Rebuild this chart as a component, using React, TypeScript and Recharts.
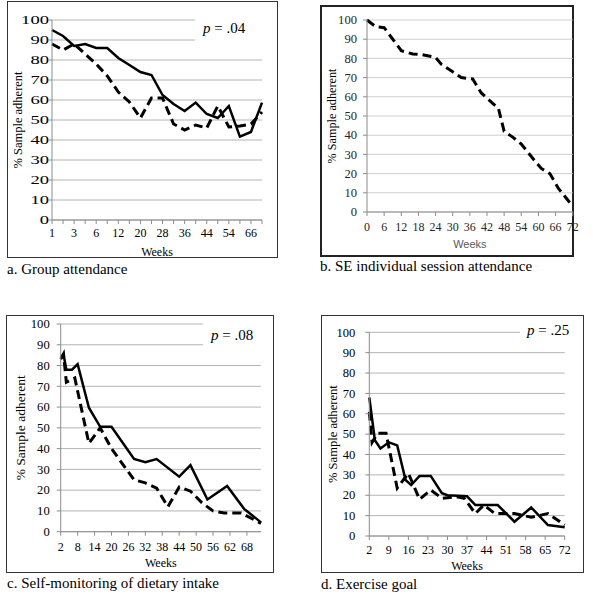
import React from 'react';
import { LineChart, Line, XAxis, YAxis, CartesianGrid, Label } from 'recharts';

const SERIF = "'Liberation Serif', 'DejaVu Serif', Times, serif";
const SANS = "'Liberation Sans', 'DejaVu Sans', Arial, sans-serif";
const axisGray = '#8c8c8c';
const gridGray = '#b4b4b4';

const percentTicks = [0, 10, 20, 30, 40, 50, 60, 70, 80, 90, 100];

// a. Group attendance (category axis, every other week labelled)
const groupWeeks = ['1', '2', '3', '4', '6', '9', '12', '16', '20', '24', '28', '32', '36', '40', '44', '48', '54', '60', '66', '72'];
const groupSolid = [95, 92, 87, 88, 86, 86, 81, 77.5, 74, 72.5, 62.5, 58, 54.5, 58.7, 53, 51, 57, 41.7, 44, 58.7];
const groupDashed = [88, 85, 88, 83, 78, 72, 64, 59, 51, 61, 61, 48, 45, 47.5, 46, 57, 46.5, 47, 48, 54];

// b. SE individual session attendance
const seWeeks = [0, 3, 6, 12, 16, 19, 24, 26, 30, 33, 37, 40, 44, 46, 48, 51, 54, 58, 61, 64, 67, 72];
const seValues = [100, 96.5, 96, 84, 82.3, 82, 80.5, 77, 73, 70, 69.3, 62, 56.6, 54, 42, 39, 35.4, 28, 22.7, 20, 12.3, 3];
const seTicks = [0, 6, 12, 18, 24, 30, 36, 42, 48, 54, 60, 66, 72];

// c. Self-monitoring of dietary intake
const dietSolidWeeks = [2, 3, 4, 6, 8, 12, 16, 20, 28, 32, 36, 44, 48, 54, 61, 67, 73];
const dietSolidValues = [84, 85.5, 78, 78, 80.7, 59.7, 50.5, 50.5, 35, 33.5, 35, 26.5, 32, 15.5, 22, 11, 4.5];
const dietDashedWeeks = [2, 3, 4, 7, 12, 16, 20, 28, 32, 36, 40, 44, 48, 52, 56, 60, 66, 73];
const dietDashedValues = [83, 85.5, 72, 74, 42.5, 50, 40, 25, 23.5, 21, 12, 21.5, 19.5, 14, 10, 9, 9, 4];
const dietTicks = [2, 8, 14, 20, 26, 32, 38, 44, 50, 56, 62, 68];

// d. Exercise goal
const exSolidWeeks = [2, 4, 6, 9, 12, 15, 17, 20, 24, 28, 30, 37, 40, 48, 54, 60, 66, 72];
const exSolidValues = [68, 47, 43, 46, 44.5, 27.5, 25, 29.5, 29.5, 21, 20, 19.5, 15.2, 15.2, 7, 14, 5.4, 4.3];
const exDashedWeeks = [2, 3, 5, 8, 12, 16, 20, 24, 28, 33, 36, 40, 43, 47, 54, 60, 66, 72];
const exDashedValues = [61, 46, 50.4, 50.4, 23.5, 30.8, 18, 22.6, 18.5, 19.3, 18.5, 11, 15.2, 11, 11, 9.2, 11, 5.4];
const exTicks = [2, 9, 16, 23, 30, 37, 44, 51, 58, 65, 72];

const pairs = (weeks: number[], values: number[]) => weeks.map((week, i) => ({ week, value: values[i] }));

const groupData = groupWeeks.map((week, i) => ({ week, solid: groupSolid[i], dashed: groupDashed[i] }));
const seData = pairs(seWeeks, seValues);
const dietSolid = pairs(dietSolidWeeks, dietSolidValues);
const dietDashed = pairs(dietDashedWeeks, dietDashedValues);
const exSolid = pairs(exSolidWeeks, exSolidValues);
const exDashed = pairs(exDashedWeeks, exDashedValues);

const serif = (size: number): React.CSSProperties => ({ fontFamily: SERIF, fontSize: size });

// y tick labels are stretched sideways in the original
const yTick = (sx: number, fill = '#000') => (props: any) => {
  const { x, y, payload } = props;
  return (
    <text transform={`translate(${x},${y}) scale(${sx},1)`} textAnchor="end" dy="0.35em" style={serif(12)} fill={fill}>
      {payload.value}
    </text>
  );
};

const xTick = (baseline: number, every = 1, fill = '#000') => (props: any) => {
  const { x, y, payload, index } = props;
  if (index % every !== 0) return <g />;
  return (
    <text x={x} y={y + baseline} textAnchor="middle" style={serif(12)} fill={fill}>
      {payload.value}
    </text>
  );
};

const weeksLabel = (offset: number, family = SERIF, size = 12, fill = '#000') => (props: any) => {
  const { x, y, width, height } = props.viewBox;
  return (
    <text x={x + width / 2} y={y + height - offset} textAnchor="middle" style={{ fontFamily: family, fontSize: size }} fill={fill}>
      Weeks
    </text>
  );
};

const yTitle = (cx: number, size = 12.5) => (props: any) => {
  const { x, y, height } = props.viewBox;
  return (
    <text transform={`translate(${x + cx},${y + height / 2}) rotate(-90)`} textAnchor="middle" dy="0.35em" style={serif(size)} fill="#000">
      % Sample adherent
    </text>
  );
};

const solidProps = { stroke: '#000', strokeWidth: 2.5, dot: false, activeDot: false, isAnimationActive: false } as const;
const dashedProps = { stroke: '#000', strokeWidth: 3, strokeDasharray: '9 5', dot: false, activeDot: false, isAnimationActive: false } as const;

const box = (left: number, top: number, width: number, height: number, border = '1px solid #333'): React.CSSProperties => ({
  position: 'absolute', left, top, width, height, border, boxSizing: 'border-box',
});

export default function App() {
  return (
    <div style={{ position: 'absolute', left: 0, top: 0, width: 593, height: 600, background: '#fff', overflow: 'hidden' }}>
      <div style={box(7, 1, 271, 257)} />
      <div style={box(320, 5, 254, 252, '2px solid #222')} />
      <div style={box(6, 315, 268, 258)} />
      <div style={box(321, 315, 263, 258)} />

      {/* a. Group attendance */}
      <div style={{ position: 'absolute', left: 7, top: 2 }}>
        <LineChart width={271} height={256} data={groupData} margin={{ top: 18, right: 16, bottom: 0, left: 0 }}>
          <CartesianGrid vertical={false} stroke={gridGray} />
          <XAxis dataKey="week" interval={0} height={38} tickSize={4} tickMargin={2} stroke={axisGray} tick={xTick(11, 2)}>
            <Label content={weeksLabel(2)} />
          </XAxis>
          <YAxis type="number" domain={[0, 100]} ticks={percentTicks} interval={0} width={45} tickSize={3} tickMargin={0} stroke={axisGray} tick={yTick(1.55)}>
            <Label content={yTitle(11)} />
          </YAxis>
          <Line dataKey="solid" {...solidProps} />
          <Line dataKey="dashed" {...dashedProps} />
        </LineChart>
      </div>

      {/* b. SE individual session attendance */}
      <div style={{ position: 'absolute', left: 320, top: 6 }}>
        <LineChart width={262} height={251} margin={{ top: 14, right: 9.3, bottom: 0, left: 0 }}>
          <CartesianGrid vertical={false} stroke="#cfcfcf" />
          <XAxis dataKey="week" type="number" domain={[0, 72]} ticks={seTicks} interval={0} height={45} tickSize={4} tickMargin={2} stroke={axisGray} tick={xTick(12.7, 1, '#262626')}>
            <Label content={weeksLabel(9, SANS, 11, '#595959')} />
          </XAxis>
          <YAxis type="number" domain={[0, 100]} ticks={percentTicks} interval={0} width={47} tickSize={4} tickMargin={6} stroke={axisGray} tick={yTick(1.05, '#262626')}>
            <Label content={yTitle(12, 12.2)} />
          </YAxis>
          <Line data={seData} dataKey="value" {...dashedProps} />
        </LineChart>
      </div>

      {/* c. Self-monitoring of dietary intake */}
      <div style={{ position: 'absolute', left: 6, top: 315 }}>
        <LineChart width={268} height={258} margin={{ top: 9, right: 13, bottom: 0, left: 0 }}>
          <CartesianGrid vertical={false} stroke={gridGray} />
          <XAxis dataKey="week" type="number" domain={[2, 73]} ticks={dietTicks} interval={0} height={41.3} tickSize={4} tickMargin={2} stroke={axisGray} tick={xTick(13)}>
            <Label content={weeksLabel(5.7)} />
          </XAxis>
          <YAxis type="number" domain={[0, 100]} ticks={percentTicks} interval={0} width={54.7} tickSize={4} tickMargin={7} stroke={axisGray} tick={yTick(1.05)}>
            <Label content={yTitle(14, 13.5)} />
          </YAxis>
          <Line data={dietSolid} dataKey="value" {...solidProps} />
          <Line data={dietDashed} dataKey="value" {...dashedProps} />
        </LineChart>
      </div>

      {/* d. Exercise goal */}
      <div style={{ position: 'absolute', left: 321, top: 315 }}>
        <LineChart width={263} height={258} margin={{ top: 17.3, right: 19.3, bottom: 0, left: 0 }}>
          <CartesianGrid vertical={false} stroke={gridGray} />
          <XAxis dataKey="week" type="number" domain={[2, 72]} ticks={exTicks} interval={0} height={37} tickSize={4} tickMargin={2} stroke={axisGray} tick={xTick(12)}>
            <Label content={weeksLabel(3)} />
          </XAxis>
          <YAxis type="number" domain={[0, 100]} ticks={percentTicks} interval={0} width={48.3} tickSize={4} tickMargin={10} stroke={axisGray} tick={yTick(1.05)}>
            <Label content={yTitle(12, 12.6)} />
          </YAxis>
          <Line data={exSolid} dataKey="value" {...solidProps} />
          <Line data={exDashed} dataKey="value" {...dashedProps} />
        </LineChart>
      </div>

      {/* p-values sit in white boxes over the top gridlines; captions below each panel */}
      <svg width={593} height={600} style={{ position: 'absolute', left: 0, top: 0, pointerEvents: 'none', fontFamily: SERIF }}>
        <rect x={195} y={14} width={68} height={30} fill="#fff" />
        <text x={203} y={33} style={serif(15)}><tspan fontStyle="italic">p</tspan> = .04</text>
        <rect x={203} y={318} width={59} height={31} fill="#fff" />
        <text x={211} y={340} style={serif(15)}><tspan fontStyle="italic">p</tspan> = .08</text>
        <rect x={520} y={322} width={50} height={16} fill="#fff" />
        <text x={527} y={335} style={serif(15)}><tspan fontStyle="italic">p</tspan> = .25</text>

        <text x={7} y={274} style={serif(15)}>a. Group attendance</text>
        <text x={320} y={271} style={serif(15)}>b. SE individual session attendance</text>
        <text x={7} y={588} style={serif(15)}>c. Self-monitoring of dietary intake</text>
        <text x={321} y={589} style={serif(15)}>d. Exercise goal</text>
      </svg>
    </div>
  );
}
